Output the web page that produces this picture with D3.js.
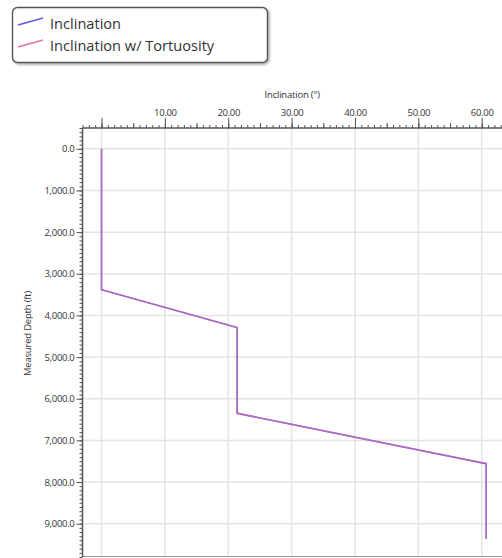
<!DOCTYPE html>
<html><head><meta charset="utf-8">
<script src="https://cdn.jsdelivr.net/npm/d3@7"></script>
<style>
body{margin:0;background:#fff;}
svg{display:block;}
text{font-family:"Open Sans",sans-serif;fill:#333;}
</style></head><body>
<svg id="c" width="502" height="558"></svg>
<script>
const depth = [0, 3380, 4290, 6350, 7560, 9360];
const inclination = [0, 0, 21.4, 21.4, 60.7, 60.7];
const inclinationTort = [0, 0, 21.4, 21.4, 60.7, 60.7];
const seriesNames = ["Inclination", "Inclination w/ Tortuosity"];
const xTickValues = [10, 20, 30, 40, 50, 60];
const yTickValues = [0, 1000, 2000, 3000, 4000, 5000, 6000, 7000, 8000, 9000];

const svg = d3.select("#c");
const L = 82.5, R = 502, T = 128, B = 557;
const x = d3.scaleLinear().domain([-3, 63.2]).range([L, R]);
const y = d3.scaleLinear().domain([-500, 9800]).range([T, B]);

// grid
const g = svg.append("g");
g.selectAll(".vg").data([0].concat(xTickValues)).enter().append("line")
  .attr("x1", d => x(d)).attr("x2", d => x(d)).attr("y1", T).attr("y2", B)
  .attr("stroke", "#e4e4e4").attr("stroke-width", 1.5);
g.selectAll(".hg").data(yTickValues).enter().append("line")
  .attr("x1", L).attr("x2", R).attr("y1", d => y(d)).attr("y2", d => y(d))
  .attr("stroke", "#e4e4e4").attr("stroke-width", 1.5);

// bottom border
svg.append("line").attr("x1", L).attr("x2", R).attr("y1", B - 0.5).attr("y2", B - 0.5)
  .attr("stroke", "#999").attr("stroke-width", 1);

// top axis
const xMinor = d3.range(-3, 64, 1);
const xa = svg.append("g").attr("transform", `translate(0,${T})`);
xa.append("g").call(d3.axisTop(x).tickValues(xMinor).tickSize(3).tickFormat(""))
  .call(s => s.select(".domain").remove());
xa.append("g").call(d3.axisTop(x).tickValues(xMinor.filter(d => d % 5 === 0)).tickSize(5).tickFormat(""))
  .call(s => s.select(".domain").remove());
xa.append("g").call(d3.axisTop(x).tickValues([0].concat(xTickValues)).tickSize(10).tickPadding(2)
    .tickFormat(d => d === 0 ? "" : d3.format(".2f")(d)))
  .call(s => s.select(".domain").remove());
xa.selectAll(".tick line").attr("stroke", "#555");
xa.selectAll("text").attr("font-size", 9.5).attr("font-family", "Open Sans").attr("fill", "#2a2a2a").attr("letter-spacing", -0.3);
xa.append("line").attr("x1", L).attr("x2", R).attr("stroke", "#555").attr("stroke-width", 1.5);

// left axis
const yMinor = d3.range(-500, 9801, 100);
const ya = svg.append("g").attr("transform", `translate(${L},0)`);
ya.append("g").call(d3.axisLeft(y).tickValues(yMinor).tickSize(3).tickFormat(""))
  .call(s => s.select(".domain").remove());
ya.append("g").call(d3.axisLeft(y).tickValues(yTickValues).tickSize(6).tickPadding(2)
    .tickFormat(d3.format(",.1f")))
  .call(s => s.select(".domain").remove());
ya.selectAll(".tick line").attr("stroke", "#555");
ya.selectAll("text").attr("font-size", 9.5).attr("font-family", "Open Sans").attr("fill", "#2a2a2a").attr("letter-spacing", -0.3);
ya.append("line").attr("y1", T).attr("y2", B).attr("stroke", "#555").attr("stroke-width", 1.5);

// titles
svg.append("text").attr("x", (L + R) / 2).attr("y", 98).attr("text-anchor", "middle")
  .attr("font-size", 9.5).attr("fill", "#2a2a2a").attr("letter-spacing", -0.2).text("Inclination (°)");
svg.append("text").attr("transform", `translate(31,${(T + B) / 2 - 9}) rotate(-90)`)
  .attr("text-anchor", "middle").attr("font-size", 9.5).attr("fill", "#2a2a2a").attr("letter-spacing", -0.2).text("Measured Depth (ft)");

// lines
const line = d3.line().x(d => x(d[0])).y(d => y(d[1]));
svg.append("path").datum(inclination.map((v, i) => [v, depth[i]])).attr("d", line)
  .attr("fill", "none").attr("stroke", "#5a4fc8").attr("stroke-width", 1.5);
svg.append("path").datum(inclinationTort.map((v, i) => [v, depth[i]])).attr("d", line)
  .attr("fill", "none").attr("stroke", "#e070c0").attr("stroke-width", 1.5).attr("opacity", 0.68);

// legend
const defs = svg.append("defs");
const f = defs.append("filter").attr("id", "sh").attr("x", "-10%").attr("y", "-20%").attr("width", "130%").attr("height", "160%");
f.append("feDropShadow").attr("dx", 1.5).attr("dy", 1.5).attr("stdDeviation", 1.2).attr("flood-color", "#000").attr("flood-opacity", 0.35);
const lg = svg.append("g");
lg.append("rect").attr("x", 12.5).attr("y", 7.5).attr("width", 255).attr("height", 55).attr("rx", 5)
  .attr("fill", "#fff").attr("stroke", "#555").attr("stroke-width", 1.4).attr("filter", "url(#sh)");
const colors = ["#5a5ad0", "#e070b0"];
seriesNames.forEach((n, i) => {
  const base = 29 + i * 22;
  lg.append("line").attr("x1", 18).attr("y1", base - 4).attr("x2", 43).attr("y2", base - 11)
    .attr("stroke", colors[i]).attr("stroke-width", 1.5);
  lg.append("text").attr("x", 50).attr("y", base).attr("font-size", 14.6).attr("fill", "#2a2a2a").text(n);
});
</script></body></html>
